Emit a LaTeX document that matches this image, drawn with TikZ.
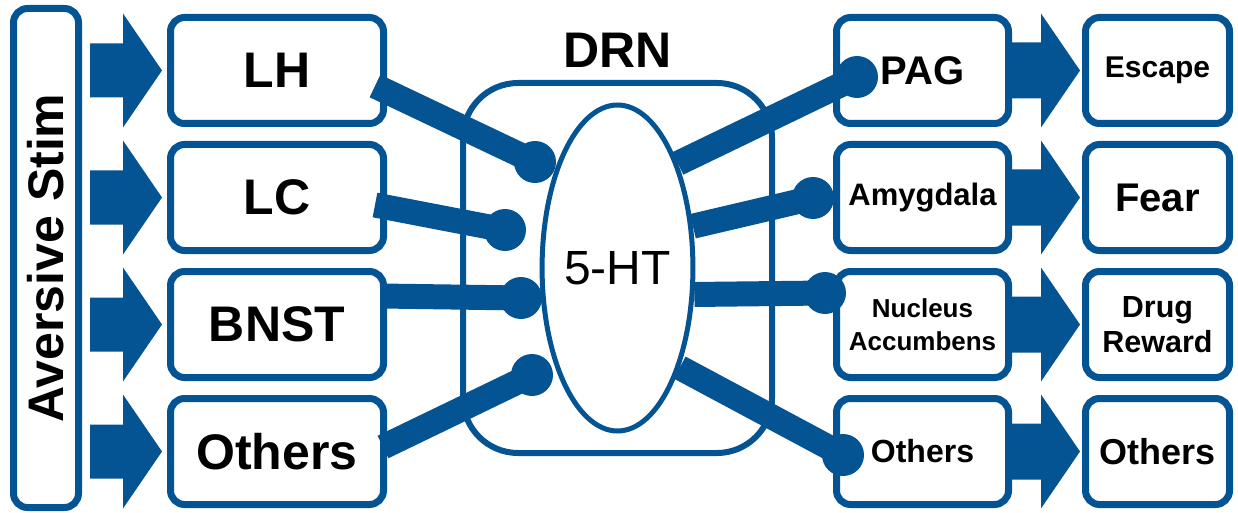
\documentclass[tikz,border=0pt]{standalone}
\usepackage{fontspec}
\setmainfont{Liberation Sans}
\usepackage{tikz}
\usetikzlibrary{positioning,calc,shapes.geometric}
\definecolor{drnblue}{RGB}{4,84,148}

\begin{document}
\begin{tikzpicture}[x=1pt, y=-1pt,
  box/.style={draw=drnblue, line width=7pt, rounded corners=14pt, fill=white, align=center, inner sep=0pt, minimum height=106pt},
  inbox/.style={box, minimum width=213pt, font=\fontsize{50}{60}\selectfont\bfseries},
  outbox/.style={box, minimum width=172pt},
  endbox/.style={box, minimum width=144pt},
  syn/.style={draw=drnblue, line width=25pt}
]
\useasboundingbox (0,0) rectangle (1238,513);
\node[box, rotate=90, minimum width=499pt, minimum height=65pt, font=\fontsize{50}{60}\selectfont\bfseries] (stim) at (46,258) {Aversive Stim};
\node[inbox, anchor=north west] (lh) at (167,14) {LH};
\node[inbox, below=14pt of lh] (lc) {LC};
\node[inbox, below=14pt of lc] (bnst) {BNST};
\node[inbox, below=14pt of bnst] (othl) {Others};
\node[draw=drnblue, line width=6pt, rounded corners=55pt, fill=white, minimum width=309pt, minimum height=370pt, inner sep=0pt] (drn) at (617.5,268) {};
\node[above=12pt of drn, inner sep=0pt, font=\fontsize{50}{60}\selectfont\bfseries] (drnlabel) {DRN};
\node[ellipse, draw=drnblue, line width=5pt, fill=white, minimum width=148pt, minimum height=326pt, inner sep=0pt, font=\fontsize{48}{58}\selectfont] (ht) at (drn) {5-HT};
\node[outbox, right=446pt of lh, font=\fontsize{40}{48}\selectfont\bfseries] (pag) {PAG};
\node[outbox, right=446pt of lc, font=\fontsize{31}{37}\selectfont\bfseries] (amy) {Amygdala};
\node[outbox, right=446pt of bnst, font=\fontsize{26}{33}\selectfont\bfseries] (nac) {Nucleus\\Accumbens};
\node[outbox, right=446pt of othl, font=\fontsize{32}{38}\selectfont\bfseries] (othr) {Others};
\node[endbox, right=70pt of pag, font=\fontsize{30}{36}\selectfont\bfseries] (esc) {Escape};
\node[endbox, right=70pt of amy, font=\fontsize{40}{48}\selectfont\bfseries] (fear) {Fear};
\node[endbox, right=70pt of nac, font=\fontsize{30.5}{35}\selectfont\bfseries] (drug) {Drug\\Reward};
\node[endbox, right=70pt of othr, font=\fontsize{36}{43}\selectfont\bfseries] (othe) {Others};
\foreach \dst in {lh,lc,bnst,othl}
  \fill[drnblue] let \p1=(stim.south), \p2=(\dst.west) in
    (\x1+8pt,\y2+27pt) -- (\x2-44pt,\y2+27pt) -- (\x2-44pt,\y2+57pt) -- (\x2-5pt,\y2)
    -- (\x2-44pt,\y2-57pt) -- (\x2-44pt,\y2-27pt) -- (\x1+8pt,\y2-27pt) -- cycle;
\foreach \src/\dst in {pag/esc,amy/fear,nac/drug,othr/othe}
  \fill[drnblue] let \p1=(\src.east), \p2=(\dst.west) in
    (\x1,\y2+28pt) -- (\x2-41pt,\y2+28pt) -- (\x2-41pt,\y2+57pt) -- (\x2-2pt,\y2)
    -- (\x2-41pt,\y2-57pt) -- (\x2-41pt,\y2-28pt) -- (\x1,\y2-28pt) -- cycle;
\coordinate (s1) at (535,162);
\coordinate (s2) at (505,230);
\coordinate (s3) at (521,298);
\coordinate (s4) at (532,375);
\coordinate (s5) at (857,77);
\coordinate (s6) at (813,198);
\coordinate (s7) at (825,293);
\coordinate (s8) at (843,455);
\draw[syn] ([shift={(-12,15.5)}]lh.east) -- (s1);
\draw[syn] ([shift={(-12,7.5)}]lc.east) -- (s2);
\draw[syn] ([shift={(-6,-28.5)}]bnst.east) -- (s3);
\draw[syn] ([shift={(-4,-4.5)}]othl.east) -- (s4);
\draw[syn] (ht.60) -- (s5);
\draw[syn] (ht.29) -- (s6);
\draw[syn] (ht.-19) -- (s7);
\draw[syn] (ht.-58) -- (s8);
\foreach \i in {1,...,8}
  \fill[drnblue] (s\i) circle[radius=21pt];
\end{tikzpicture}
\end{document}
